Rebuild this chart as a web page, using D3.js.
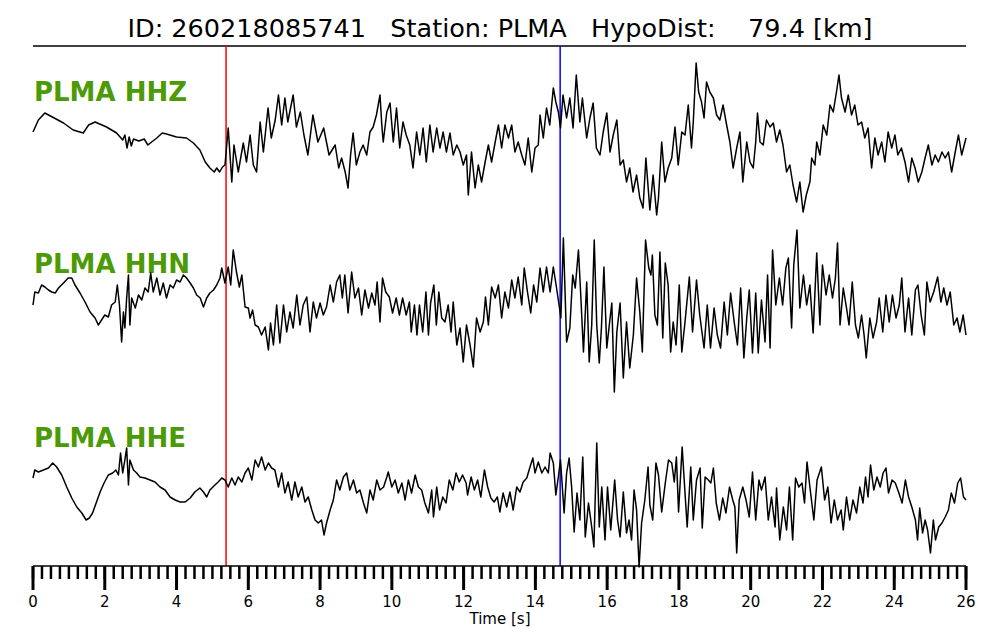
<!doctype html>
<html lang="en">
<head>
  <meta charset="utf-8">
  <style>
    body { margin: 0; background: #fff; }
    svg text { font-family: "DejaVu Sans", sans-serif; }
  </style>
</head>
<body>
  <script src="https://cdn.jsdelivr.net/npm/d3@7"></script>
  <div id="chart"></div>
  <script>
  // event info
  var eventId = "260218085741";
  var station = "PLMA";
  var hypoDist = 79.4;
  var pPick = 5.38;   // red line [s]
  var sPick = 14.69;  // blue line [s]
  var channels = ["HHZ", "HHN", "HHE"];

  // traces: [time s, amplitude]
  var hhz = [[0,8],[0.15,20],[0.33,27],[0.85,17],[1.12,10],[1.4,7],[1.55,15],[1.73,18],[2.05,13],[2.33,7],
    [2.5,0],[2.56,5],[2.62,-8],[2.68,3],[2.74,-6],[2.8,1],[2.95,-1],[3.1,1],[3.2,-5],[3.45,2],[3.6,7],[3.72,6],
    [4,3],[4.28,2],[4.47,-3],[4.65,-10],[4.8,-22],[4.93,-28],[5.05,-32],[5.12,-28],[5.2,-32],[5.28,-27],[5.35,-25],
    [5.44,12],[5.54,-42],[5.6,-5],[5.72,-32],[5.86,-3],[5.95,-22],[6.05,5],[6.14,-25],[6.23,-32],[6.33,18],[6.42,-12],
    [6.55,32],[6.64,2],[6.75,20],[6.84,45],[6.93,15],[7.02,42],[7.1,18],[7.25,45],[7.34,13],[7.45,28],[7.55,5],
    [7.66,-15],[7.8,25],[7.94,-2],[8.1,12],[8.25,-15],[8.42,-5],[8.52,-28],[8.6,-18],[8.7,-32],[8.78,-48],[8.85,-15],
    [8.92,7],[9.01,-25],[9.11,-12],[9.2,-5],[9.3,-15],[9.39,8],[9.48,13],[9.57,25],[9.67,45],[9.72,15],[9.76,-2],
    [9.86,28],[9.95,37],[10.04,-2],[10.13,32],[10.22,-8],[10.31,18],[10.4,5],[10.5,-5],[10.59,-28],[10.69,8],
    [10.78,-15],[10.87,12],[10.96,-22],[11.06,15],[11.15,-12],[11.25,12],[11.34,-8],[11.43,8],[11.52,-12],[11.62,7],
    [11.71,-15],[11.81,-5],[11.9,-12],[11.99,-25],[12.08,-15],[12.13,-55],[12.22,-12],[12.32,-48],[12.41,-25],
    [12.5,-42],[12.6,-22],[12.69,-5],[12.78,-22],[12.88,-2],[12.97,15],[13.06,-8],[13.15,15],[13.25,2],[13.34,15],
    [13.43,-12],[13.52,-2],[13.62,-15],[13.71,-25],[13.8,2],[13.9,-32],[13.99,-8],[14.08,-5],[14.13,25],[14.22,2],
    [14.31,32],[14.4,15],[14.5,52],[14.57,38],[14.64,28],[14.7,12],[14.77,45],[14.87,22],[14.96,42],[15.05,12],
    [15.14,65],[15.24,18],[15.31,42],[15.43,2],[15.52,22],[15.61,37],[15.7,-8],[15.8,-15],[15.89,8],[15.99,27],
    [16.08,-12],[16.17,5],[16.27,20],[16.36,-25],[16.45,-20],[16.54,-42],[16.63,-28],[16.72,-52],[16.82,-35],
    [16.91,-58],[17,-68],[17.08,-18],[17.19,-70],[17.28,-35],[17.38,-75],[17.43,-58],[17.52,-2],[17.61,-42],
    [17.7,-28],[17.8,-18],[17.89,13],[17.98,-25],[18.08,8],[18.17,5],[18.26,35],[18.35,-8],[18.4,18],[18.48,77],
    [18.55,48],[18.63,38],[18.7,22],[18.77,58],[18.86,48],[18.96,42],[19.05,25],[19.14,20],[19.23,35],[19.33,15],
    [19.42,-2],[19.51,-28],[19.61,-8],[19.7,8],[19.78,-42],[19.89,-2],[19.98,-22],[20.07,-28],[20.14,-2],[20.19,27],
    [20.26,-2],[20.35,-5],[20.44,20],[20.54,13],[20.63,17],[20.72,-2],[20.81,10],[20.9,-5],[21,-32],[21.09,-25],
    [21.18,-45],[21.28,-62],[21.37,-42],[21.46,-72],[21.55,-55],[21.65,-42],[21.7,-18],[21.79,-25],[21.84,-2],
    [21.93,-15],[22.02,15],[22.12,5],[22.21,35],[22.3,28],[22.39,48],[22.46,65],[22.53,42],[22.63,28],[22.72,45],
    [22.81,25],[22.9,35],[22.99,15],[23.09,18],[23.18,2],[23.27,12],[23.37,-28],[23.46,2],[23.55,-15],[23.65,-2],
    [23.74,-22],[23.83,8],[23.93,-8],[24.02,5],[24.1,-15],[24.2,-8],[24.3,-22],[24.4,-42],[24.49,-18],[24.58,-28],
    [24.67,-42],[24.77,-32],[24.86,-18],[24.95,-5],[25.05,-25],[25.14,-15],[25.23,-22],[25.33,-12],[25.42,-18],
    [25.51,-12],[25.6,-32],[25.7,-12],[25.79,5],[25.88,-15],[26,2]];

  var hhn = [[0,5],[0.05,18],[0.15,17],[0.24,25],[0.33,23],[0.43,20],[0.52,18],[0.62,17],[0.71,22],[0.85,27],
    [0.98,32],[1.08,32],[1.17,25],[1.31,17],[1.45,8],[1.59,-2],[1.73,-8],[1.82,-15],[1.91,-10],[2,-5],[2.1,-7],
    [2.19,5],[2.29,8],[2.35,25],[2.41,5],[2.47,-32],[2.52,-2],[2.56,-18],[2.61,12],[2.66,35],[2.7,-15],[2.75,12],
    [2.85,2],[2.94,15],[3.03,10],[3.12,22],[3.21,18],[3.28,37],[3.35,18],[3.45,32],[3.54,15],[3.63,27],[3.72,12],
    [3.82,25],[3.91,22],[4,30],[4.1,28],[4.19,35],[4.28,32],[4.38,27],[4.47,22],[4.56,15],[4.66,12],[4.75,3],
    [4.84,12],[4.93,17],[5.03,20],[5.12,25],[5.21,32],[5.26,42],[5.35,27],[5.44,43],[5.51,25],[5.58,60],[5.67,38],
    [5.75,23],[5.82,35],[5.91,3],[6,2],[6.05,-8],[6.12,0],[6.19,-15],[6.28,-17],[6.37,-25],[6.47,-17],[6.56,-40],
    [6.62,-13],[6.7,-35],[6.79,5],[6.88,-33],[6.98,5],[7.07,-22],[7.16,-2],[7.25,-18],[7.35,15],[7.44,-15],[7.53,5],
    [7.63,13],[7.72,-22],[7.81,8],[7.9,-8],[8,7],[8.09,-5],[8.18,3],[8.28,25],[8.37,8],[8.46,28],[8.55,35],[8.62,12],
    [8.69,35],[8.78,-3],[8.88,38],[8.97,12],[9.07,22],[9.16,-5],[9.25,20],[9.35,2],[9.44,17],[9.53,5],[9.59,28],
    [9.67,-12],[9.74,32],[9.83,18],[9.93,13],[10.02,-3],[10.12,12],[10.21,-5],[10.3,12],[10.4,-5],[10.49,8],
    [10.54,-22],[10.63,5],[10.7,-25],[10.77,5],[10.86,-22],[10.95,18],[11.02,-25],[11.08,7],[11.17,25],[11.24,-15],
    [11.31,18],[11.39,-8],[11.48,-12],[11.57,5],[11.65,-22],[11.71,8],[11.81,-35],[11.9,-18],[11.99,-52],[12.08,-15],
    [12.18,-35],[12.27,-57],[12.36,-8],[12.46,-22],[12.55,-12],[12.61,13],[12.69,-15],[12.78,23],[12.88,12],
    [12.97,25],[13.06,-8],[13.15,18],[13.25,2],[13.34,30],[13.43,12],[13.52,33],[13.62,5],[13.69,42],[13.78,18],
    [13.87,-3],[13.95,25],[14.04,8],[14.13,42],[14.22,18],[14.31,43],[14.41,18],[14.5,43],[14.59,22],[14.66,5],
    [14.71,-8],[14.78,72],[14.87,-32],[14.96,-18],[15.04,35],[15.11,22],[15.2,60],[15.26,18],[15.34,-42],[15.43,28],
    [15.5,-52],[15.57,-15],[15.64,70],[15.71,-15],[15.78,-53],[15.84,-18],[15.91,43],[15.99,-38],[16.06,-15],
    [16.13,7],[16.2,-82],[16.27,-22],[16.36,7],[16.45,-68],[16.54,-12],[16.63,-58],[16.73,-25],[16.82,32],[16.91,-2],
    [16.98,-42],[17.07,70],[17.16,42],[17.22,35],[17.26,55],[17.33,-5],[17.4,-15],[17.47,58],[17.55,-28],[17.62,47],
    [17.7,25],[17.77,-42],[17.84,-12],[17.92,-35],[18.01,25],[18.08,-42],[18.17,-12],[18.29,33],[18.38,-22],
    [18.49,30],[18.58,-5],[18.7,-38],[18.79,5],[18.88,-38],[18.98,2],[19.07,-25],[19.16,-38],[19.26,8],[19.35,-25],
    [19.44,17],[19.54,-12],[19.63,-35],[19.72,22],[19.81,-48],[19.89,-8],[19.96,20],[20.05,-43],[20.14,17],
    [20.21,-43],[20.3,10],[20.4,-32],[20.47,35],[20.54,-38],[20.61,60],[20.7,5],[20.8,32],[20.89,5],[20.98,42],
    [21.05,52],[21.14,-18],[21.2,45],[21.29,80],[21.37,2],[21.47,35],[21.56,5],[21.65,25],[21.74,-23],[21.84,57],
    [21.93,-15],[22,45],[22.1,15],[22.19,35],[22.28,12],[22.36,32],[22.42,67],[22.49,-15],[22.58,22],[22.67,2],
    [22.74,-15],[22.83,28],[22.92,-15],[23,-28],[23.09,-5],[23.16,-25],[23.22,-48],[23.32,-8],[23.41,-28],
    [23.51,-12],[23.58,12],[23.68,-22],[23.77,15],[23.86,-12],[23.95,15],[24.05,-8],[24.14,5],[24.21,32],[24.3,-22],
    [24.4,12],[24.49,-25],[24.59,20],[24.66,25],[24.75,-5],[24.84,-25],[24.91,28],[25,8],[25.1,18],[25.21,33],
    [25.3,8],[25.38,22],[25.47,5],[25.56,18],[25.66,-15],[25.75,-8],[25.83,-22],[25.92,-5],[26,-25]];

  var hhe = [[0,17],[0.05,25],[0.15,23],[0.29,25],[0.43,27],[0.55,32],[0.66,28],[0.8,20],[0.94,8],[1.08,-3],
    [1.22,-12],[1.36,-18],[1.48,-25],[1.57,-23],[1.66,-18],[1.76,-8],[1.87,3],[1.98,12],[2.1,20],[2.22,22],[2.31,25],
    [2.38,20],[2.44,42],[2.5,22],[2.56,35],[2.61,47],[2.66,10],[2.7,35],[2.8,25],[2.89,22],[2.98,18],[3.12,17],
    [3.26,15],[3.4,13],[3.54,8],[3.68,5],[3.82,-2],[3.96,-5],[4.1,-7],[4.24,-7],[4.38,-3],[4.51,3],[4.65,7],[4.75,3],
    [4.84,-2],[4.93,5],[5.07,10],[5.16,13],[5.26,17],[5.35,15],[5.44,8],[5.54,17],[5.63,10],[5.72,18],[5.82,13],
    [5.91,22],[6,27],[6.1,15],[6.19,35],[6.28,28],[6.37,38],[6.47,25],[6.56,32],[6.65,27],[6.74,25],[6.84,8],
    [6.93,22],[7.02,2],[7.11,13],[7.21,-5],[7.3,13],[7.39,-2],[7.49,8],[7.58,-7],[7.67,-2],[7.77,-15],[7.86,-25],
    [7.95,-28],[8.04,-25],[8.11,-40],[8.18,-28],[8.28,-15],[8.37,-5],[8.46,15],[8.55,5],[8.65,18],[8.74,22],[8.83,5],
    [8.93,15],[9.02,2],[9.11,5],[9.21,-8],[9.3,-18],[9.39,5],[9.48,-5],[9.58,15],[9.67,5],[9.77,8],[9.86,18],
    [9.9,23],[10,8],[10.09,15],[10.18,2],[10.28,12],[10.37,-5],[10.46,15],[10.55,2],[10.65,20],[10.74,8],[10.83,5],
    [10.92,-8],[11.02,-18],[11.11,5],[11.16,-22],[11.25,8],[11.33,-15],[11.42,-2],[11.51,-8],[11.6,15],[11.7,5],
    [11.79,22],[11.88,13],[11.97,20],[12.07,12],[12.11,0],[12.21,18],[12.3,5],[12.39,15],[12.48,-2],[12.58,25],
    [12.67,8],[12.76,-3],[12.85,-7],[12.94,-2],[13.01,-17],[13.1,2],[13.2,-12],[13.29,3],[13.38,-15],[13.48,8],
    [13.57,3],[13.66,13],[13.76,17],[13.85,28],[13.93,37],[13.99,22],[14.08,33],[14.18,22],[14.27,28],[14.36,22],
    [14.41,42],[14.5,32],[14.57,0],[14.64,18],[14.7,35],[14.8,-18],[14.87,22],[14.94,37],[15.01,8],[15.08,-37],
    [15.16,2],[15.24,-25],[15.32,38],[15.39,-42],[15.48,-8],[15.57,-32],[15.63,-52],[15.71,52],[15.78,-32],[15.85,8],
    [15.94,-45],[16.01,8],[16.1,-35],[16.21,15],[16.29,-25],[16.36,-42],[16.45,3],[16.54,-38],[16.61,-25],
    [16.68,-45],[16.75,5],[16.82,-15],[16.89,-72],[16.96,-28],[17.05,-5],[17.14,28],[17.19,-10],[17.27,-25],
    [17.36,32],[17.43,20],[17.52,-17],[17.62,12],[17.71,35],[17.8,32],[17.87,13],[17.93,38],[17.99,-17],[18.09,48],
    [18.17,2],[18.23,-32],[18.33,28],[18.4,-25],[18.49,15],[18.59,27],[18.65,-33],[18.73,18],[18.82,15],[18.89,12],
    [18.96,27],[19.04,-8],[19.13,-25],[19.22,-3],[19.31,-18],[19.41,8],[19.5,-5],[19.56,-12],[19.61,-58],[19.68,-5],
    [19.78,8],[19.87,-5],[19.96,-22],[20.05,23],[20.14,-25],[20.23,15],[20.3,5],[20.4,18],[20.49,-25],[20.58,-2],
    [20.68,-32],[20.72,7],[20.81,-45],[20.91,-12],[21,-35],[21.08,8],[21.17,-45],[21.25,17],[21.34,8],[21.43,12],
    [21.5,-8],[21.57,33],[21.66,5],[21.76,-25],[21.85,15],[21.97,28],[22.06,-5],[22.15,8],[22.24,-28],[22.33,-5],
    [22.42,-25],[22.52,-15],[22.58,-35],[22.67,-2],[22.76,-25],[22.85,-5],[22.95,-18],[23.04,8],[23.13,-8],
    [23.2,18],[23.27,-2],[23.34,30],[23.43,5],[23.52,18],[23.61,8],[23.69,22],[23.77,27],[23.84,2],[23.94,15],
    [24.03,12],[24.12,3],[24.22,-8],[24.31,15],[24.4,-2],[24.49,-12],[24.59,-25],[24.65,-45],[24.71,-13],
    [24.79,-38],[24.86,-25],[24.93,-35],[25.01,-58],[25.09,-25],[25.15,-45],[25.24,-32],[25.33,-28],[25.42,-22],
    [25.51,-15],[25.59,2],[25.68,-8],[25.77,12],[25.85,17],[25.93,-2],[26,-5]];

  var traces = [hhz, hhn, hhe];
  var xTicks = d3.range(0, 27, 2);
  var xMinor = d3.range(0, 26.01, 0.25);

  // layout
  var width = 1000, height = 640;
  var left = 33, right = 966;
  var topLine = 46, axisY = 566;
  var centers = [140, 310, 495];
  var labelY = [101, 273, 447];

  var svg = d3.select("#chart").append("svg")
      .attr("width", width)
      .attr("height", height);

  var x = d3.scaleLinear().domain([0, 26]).range([left, right]);

  // title
  svg.append("text")
     .attr("x", 500)
     .attr("y", 37)
     .attr("text-anchor", "middle")
     .style("white-space", "pre")
     .style("font-size", "25.5px")
     .text("ID: " + eventId + "   Station: " + station + "   HypoDist:    " + hypoDist.toFixed(1) + " [km]");

  svg.append("line")
     .attr("x1", left).attr("x2", right)
     .attr("y1", topLine).attr("y2", topLine)
     .attr("stroke", "#000").attr("stroke-width", 1.5);

  // channel labels (under traces)
  channels.forEach(function (c, i) {
    svg.append("text")
       .attr("x", 34)
       .attr("y", labelY[i])
       .attr("fill", "#4b9a06")
       .style("font-weight", "bold")
       .style("font-size", "26px")
       .text(station + " " + c);
  });

  // picks
  svg.append("line")
     .attr("x1", x(pPick)).attr("x2", x(pPick))
     .attr("y1", topLine).attr("y2", axisY)
     .attr("stroke", "#ff0000").attr("stroke-width", 1.5);
  svg.append("line")
     .attr("x1", x(sPick)).attr("x2", x(sPick))
     .attr("y1", topLine).attr("y2", axisY)
     .attr("stroke", "#0000ff").attr("stroke-width", 1.5);

  // traces
  traces.forEach(function (tr, i) {
    var y = d3.scaleLinear().domain([-100, 100]).range([centers[i] + 100, centers[i] - 100]);
    var line = d3.line()
        .x(function (d) { return x(d[0]); })
        .y(function (d) { return y(d[1]); });
    svg.append("path")
       .datum(tr)
       .attr("d", line)
       .attr("fill", "none")
       .attr("stroke", "#000")
       .attr("stroke-width", 1.5)
       .attr("stroke-linejoin", "round");
  });

  // time axis
  var axisG = svg.append("g");
  axisG.append("line")
       .attr("x1", left).attr("x2", right)
       .attr("y1", axisY).attr("y2", axisY)
       .attr("stroke", "#000").attr("stroke-width", 1.5);
  axisG.selectAll(".minor")
       .data(xMinor)
       .enter().append("line")
       .attr("class", "minor")
       .attr("x1", function (d) { return x(d); })
       .attr("x2", function (d) { return x(d); })
       .attr("y1", axisY).attr("y2", axisY + 13)
       .attr("stroke", "#000").attr("stroke-width", 2.5);
  axisG.selectAll(".major")
       .data(xTicks)
       .enter().append("line")
       .attr("class", "major")
       .attr("x1", function (d) { return x(d); })
       .attr("x2", function (d) { return x(d); })
       .attr("y1", axisY).attr("y2", axisY + 24)
       .attr("stroke", "#000").attr("stroke-width", 3);
  axisG.selectAll(".tlabel")
       .data(xTicks)
       .enter().append("text")
       .attr("class", "tlabel")
       .attr("x", function (d) { return x(d); })
       .attr("y", 607)
       .attr("text-anchor", "middle")
       .style("font-size", "15px")
       .text(function (d) { return d; });

  svg.append("text")
     .attr("x", 500)
     .attr("y", 624)
     .attr("text-anchor", "middle")
     .style("font-size", "15px")
     .text("Time [s]");
  </script>
</body>
</html>
